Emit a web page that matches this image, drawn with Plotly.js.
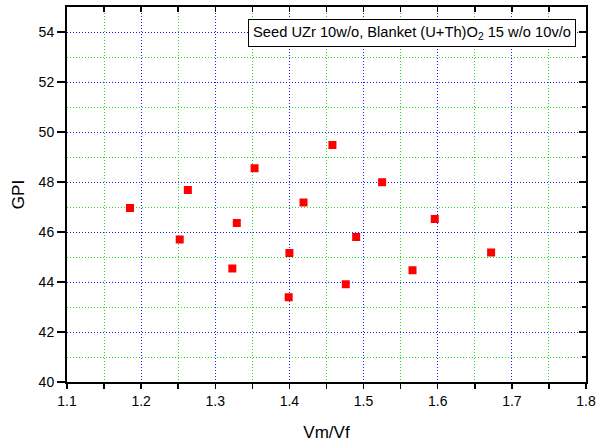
<!DOCTYPE html>
<html>
<head>
<meta charset="utf-8">
<script src="https://cdn.plot.ly/plotly-3.0.1.min.js"></script>
<style>
  html, body { margin: 0; padding: 0; background: #fff; }
  #chart { width: 596px; height: 443px; }
  /* keep the thin dotted grid lines on whole pixels */
  #chart .gridlayer path { shape-rendering: crispEdges !important; }
</style>
</head>
<body>
<div id="chart"></div>
<script>
// Moderator-to-fuel volume ratio and the resulting GPI for each case
var vmvf = [1.185, 1.252, 1.263, 1.323, 1.329, 1.353, 1.400, 1.399, 1.419, 1.458, 1.476, 1.490, 1.525, 1.566, 1.596, 1.672];
var gpi  = [46.96, 45.70, 47.68, 44.54, 46.36, 48.55, 45.16, 43.39, 47.18, 49.48, 43.91, 45.80, 47.99, 44.47, 46.52, 45.18];

// tick positions: labelled (major) and in-between (minor)
var xMajor = [1.1, 1.2, 1.3, 1.4, 1.5, 1.6, 1.7, 1.8];
var xMajorText = ['1.1', '1.2', '1.3', '1.4', '1.5', '1.6', '1.7', '1.8'];
var xMinor = [1.15, 1.25, 1.35, 1.45, 1.55, 1.65, 1.75];
var yMajor = [40, 42, 44, 46, 48, 50, 52, 54];
var yMinor = [41, 43, 45, 47, 49, 51, 53, 55];

var xTitle = 'Vm/Vf';
var yTitle = 'GPI';
var caseLabel = 'Seed UZr 10w/o, Blanket (U+Th)O<sub>2</sub> 15 w/o 10v/o';

var FONT = 'Arial, "Liberation Sans", sans-serif';
var BLUE = '#1a1aff';
var GREEN = '#22dd22';
var DOTS = '1px,2px';

var points = {
  x: vmvf, y: gpi, type: 'scatter', mode: 'markers',
  marker: { symbol: 'square', size: 8, color: '#ff0000', line: { width: 0 } },
  showlegend: false, hoverinfo: 'x+y'
};

// same points on the mirrored frame axes (top / right), kept invisible
var frame = {
  x: vmvf, y: gpi, type: 'scatter', mode: 'markers', xaxis: 'x2', yaxis: 'y2',
  marker: { opacity: 0 }, showlegend: false, hoverinfo: 'skip'
};

var layout = {
  width: 596, height: 443,
  margin: { l: 67, r: 10, t: 7, b: 61 },
  paper_bgcolor: '#ffffff', plot_bgcolor: '#ffffff',
  font: { family: FONT, color: '#000', size: 14 },
  xaxis: {
    range: [1.1, 1.8], tickmode: 'array', tickvals: xMajor, ticktext: xMajorText,
    ticklabeloverflow: 'allow',
    ticks: 'outside', ticklen: 5, tickwidth: 1.5, tickcolor: '#000',
    showline: true, linewidth: 2, linecolor: '#000', zeroline: false,
    showgrid: true, gridcolor: BLUE, gridwidth: 1, griddash: DOTS,
    minor: { tickmode: 'array', tickvals: xMinor, ticks: 'outside', ticklen: 5, tickwidth: 1.5,
             tickcolor: '#000', showgrid: true, gridcolor: GREEN, gridwidth: 1, griddash: DOTS },
    tickfont: { size: 14, family: FONT },
    title: { text: xTitle, font: { size: 17, family: FONT }, standoff: 18 }
  },
  yaxis: {
    range: [40, 55], tickmode: 'array', tickvals: yMajor,
    ticks: 'outside', ticklen: 8, tickwidth: 1.5, tickcolor: '#000',
    showline: true, linewidth: 2, linecolor: '#000', zeroline: false,
    showgrid: true, gridcolor: BLUE, gridwidth: 1, griddash: DOTS,
    minor: { tickmode: 'array', tickvals: yMinor, ticks: 'outside', ticklen: 0, tickwidth: 0,
             showgrid: true, gridcolor: GREEN, gridwidth: 1, griddash: DOTS },
    tickfont: { size: 14, family: FONT },
    title: { text: yTitle, font: { size: 17, family: FONT }, standoff: 10 }
  },
  xaxis2: {
    overlaying: 'x', side: 'top', range: [1.1, 1.8], tickmode: 'array', tickvals: xMajor,
    ticks: 'inside', ticklen: 5, tickwidth: 1.5, tickcolor: '#000',
    minor: { tickmode: 'array', tickvals: xMinor, ticks: 'inside', ticklen: 5, tickwidth: 1.5, tickcolor: '#000' },
    showticklabels: false, showgrid: false, zeroline: false,
    showline: true, linewidth: 2, linecolor: '#000'
  },
  yaxis2: {
    overlaying: 'y', side: 'right', range: [40, 55], tickmode: 'array', tickvals: yMajor,
    ticks: 'inside', ticklen: 7, tickwidth: 2, tickcolor: '#000',
    minor: { tickmode: 'array', tickvals: yMinor, ticks: 'inside', ticklen: 4, tickwidth: 1.5, tickcolor: '#000' },
    showticklabels: false, showgrid: false, zeroline: false,
    showline: true, linewidth: 2, linecolor: '#000'
  },
  annotations: [{
    xref: 'paper', yref: 'paper', x: 0.981, y: 0.967,
    xanchor: 'right', yanchor: 'top', showarrow: false,
    text: caseLabel, font: { size: 14.7, family: FONT, color: '#000' },
    bgcolor: '#ffffff', bordercolor: '#000', borderwidth: 1, borderpad: 4
  }]
};

Plotly.newPlot('chart', [points, frame], layout, { staticPlot: true, displayModeBar: false });
</script>
</body>
</html>
